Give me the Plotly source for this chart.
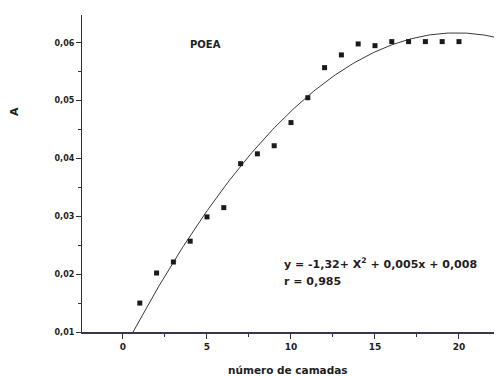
import numpy as np
import plotly.graph_objects as go

# Data
layers = [1, 2, 3, 4, 5, 6, 7, 8, 9, 10, 11, 12, 13, 14, 15, 16, 17, 18, 19, 20]
absorbance = [0.0150, 0.0202, 0.0221, 0.0257, 0.0299, 0.0315, 0.0391, 0.0408,
              0.0422, 0.0462, 0.0505, 0.0557, 0.0579, 0.0598, 0.0595, 0.0602,
              0.0602, 0.0602, 0.0602, 0.0602]

# Quadratic fit coefficients (c2, c1, c0) as drawn
fit_coeffs = [-1.395e-4, 0.005539, 0.006727]
fit_x_range = [0.6, 22.6]

x_ticks = [0, 5, 10, 15, 20]
y_ticks = [0.01, 0.02, 0.03, 0.04, 0.05, 0.06]

fit_x = np.linspace(fit_x_range[0], fit_x_range[1], 200)
fit_y = np.polyval(fit_coeffs, fit_x)

FONT = "DejaVu Sans"
TXT = "#1e1e1e"

# page offset of the figure inside the browser window (body margin)
OFF = 8
# plot-area box in window pixels
PL, PR, PT, PB = 82, 502, 15, 332


def px(x):
    return (x - PL) / (PR - PL)


def py(y):
    return (PB - y) / (PB - PT)


fig = go.Figure()
fig.add_trace(go.Scatter(
    x=fit_x, y=fit_y, mode="lines",
    line=dict(color="#3a3a3a", width=1),
    showlegend=False, hoverinfo="skip"))
fig.add_trace(go.Scatter(
    x=layers, y=absorbance, mode="markers",
    marker=dict(symbol="square", size=5, color="#1a1a1a"),
    showlegend=False))

bold = dict(family=FONT, color=TXT, weight="bold")

fig.update_layout(
    width=502, height=376,
    margin=dict(l=PL - OFF, r=502 - (PR - OFF), t=PT - OFF, b=376 - (PB - OFF), autoexpand=False),
    paper_bgcolor="white", plot_bgcolor="white",
    separators=", ",
    font=dict(family=FONT, size=9, color=TXT),
    xaxis=dict(
        range=[-2.44, 22.56], tickvals=x_ticks, ticktext=[str(v) for v in x_ticks],
        automargin=False,
        showgrid=False, zeroline=False, showline=True, linecolor="#3a3550", linewidth=1.5,
        ticks="outside", ticklen=5, tickwidth=1.2, tickcolor="#333",
        minor=dict(ticks="outside", ticklen=3, tickcolor="#333", dtick=2.5, tick0=0, showgrid=False),
        tickfont=dict(size=9, **bold),
    ),
    yaxis=dict(
        range=[0.01, 0.0648], tickvals=y_ticks, tickformat=".2f",
        automargin=False,
        showgrid=False, zeroline=False, showline=True, linecolor="#333", linewidth=1.2,
        ticks="outside", ticklen=5, tickwidth=1.2, tickcolor="#333",
        minor=dict(ticks="outside", ticklen=3, tickcolor="#333", dtick=0.005, tick0=0.005, showgrid=False),
        tickfont=dict(size=8, **bold),
    ),
    annotations=[
        dict(text="POEA", x=px(188), y=py(37), xref="paper", yref="paper", showarrow=False,
             font=dict(size=10, **bold)),
        dict(text="y = -1,32+ X<sup>2</sup> + 0,005x + 0,008",
             x=px(282), y=py(263), xref="paper", yref="paper",
             xanchor="left", yanchor="middle", align="left",
             showarrow=False, font=dict(size=11, **bold)),
        dict(text="r = 0,985",
             x=px(282), y=py(281), xref="paper", yref="paper",
             xanchor="left", yanchor="middle", align="left",
             showarrow=False, font=dict(size=11, **bold)),
        dict(text="número de camadas", x=px(288), y=py(370), xref="paper", yref="paper",
             xanchor="center", yanchor="middle", showarrow=False,
             font=dict(size=10.5, **bold)),
        dict(text="A", x=px(14), y=py(112), xref="paper", yref="paper", textangle=-90,
             xanchor="center", yanchor="middle", showarrow=False,
             font=dict(size=11, **bold)),
    ],
)

fig.write_html("out.html")
